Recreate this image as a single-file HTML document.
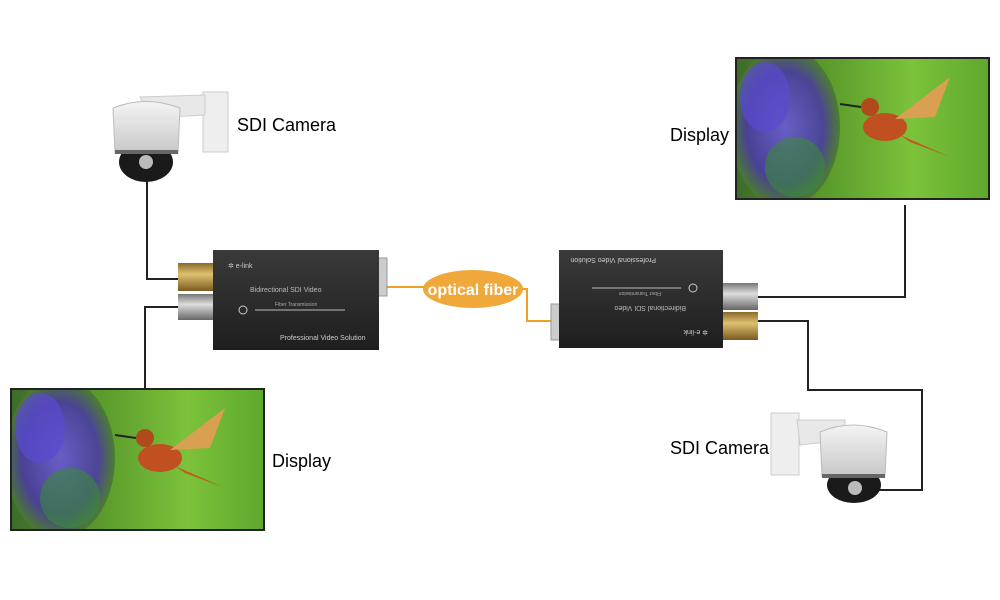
<!DOCTYPE html>
<html><head><meta charset="utf-8"><style>
body{margin:0;background:#fff;}
svg{display:block}
text{font-family:"Liberation Sans",sans-serif}
</style></head><body>
<svg width="1000" height="600" viewBox="0 0 1000 600" xmlns="http://www.w3.org/2000/svg">
<defs>
<clipPath id="dc"><rect x="2" y="2" width="251" height="139"/></clipPath>
<linearGradient id="bg" x1="0" y1="0" x2="1" y2="0">
<stop offset="0" stop-color="#3f6b2a"/><stop offset="0.35" stop-color="#5a9a2c"/><stop offset="0.7" stop-color="#7cc23a"/><stop offset="1" stop-color="#5ea82e"/></linearGradient>
<radialGradient id="fl" cx="0.5" cy="0.5" r="0.5"><stop offset="0" stop-color="#6a5ad8"/><stop offset="0.7" stop-color="#4a3ca0"/><stop offset="1" stop-color="#4a7a30"/></radialGradient>
<linearGradient id="box" x1="0" y1="0" x2="0" y2="1"><stop offset="0" stop-color="#3a3a3a"/><stop offset="1" stop-color="#1e1e1e"/></linearGradient>
<linearGradient id="gold" x1="0" y1="0" x2="0" y2="1"><stop offset="0" stop-color="#8a6a2a"/><stop offset="0.4" stop-color="#e0c070"/><stop offset="1" stop-color="#7a5a20"/></linearGradient>
<linearGradient id="silv" x1="0" y1="0" x2="0" y2="1"><stop offset="0" stop-color="#777"/><stop offset="0.4" stop-color="#ddd"/><stop offset="1" stop-color="#666"/></linearGradient>
<linearGradient id="dome" x1="0" y1="0" x2="0" y2="1"><stop offset="0" stop-color="#f4f4f4"/><stop offset="1" stop-color="#c8c8c8"/></linearGradient>
<g id="disp">
<rect x="0" y="0" width="255" height="143" fill="#222"/>
<g clip-path="url(#dc)">
<rect x="2" y="2" width="251" height="139" fill="url(#bg)"/>
<ellipse cx="50" cy="70" rx="55" ry="80" fill="url(#fl)" opacity="0.9"/>
<ellipse cx="30" cy="40" rx="25" ry="35" fill="#5a4ad0" opacity="0.7"/>
<ellipse cx="60" cy="110" rx="30" ry="30" fill="#3a8a3a" opacity="0.6"/>
<ellipse cx="150" cy="70" rx="22" ry="14" fill="#c05020"/>
<circle cx="135" cy="50" r="9" fill="#b04a1a"/>
<line x1="126" y1="50" x2="105" y2="47" stroke="#222" stroke-width="2"/>
<path d="M160 62 L215 20 L200 60 Z" fill="#d8a050"/>
<path d="M165 78 L215 100 L175 85 Z" fill="#c05a20"/>
</g>
</g>
</defs>

<g fill="none" stroke="#222" stroke-width="2">
<polyline points="147,180 147,279 180,279"/>
<polyline points="145,388 145,307 180,307"/>
<polyline points="905,205 905,297 758,297"/>
<polyline points="758,321 808,321 808,390 922,390 922,490 878,490"/>
</g>
<g fill="none" stroke="#f0a020" stroke-width="2">
<polyline points="385,287 430,287"/>
<polyline points="520,289 527,289 527,321 555,321"/>
</g>
<ellipse cx="473" cy="289" rx="50" ry="19" fill="#f0a83a"/>
<text x="473" y="295" text-anchor="middle" font-size="16" font-weight="bold" fill="#fff">optical fiber</text>

<rect x="203" y="92" width="25" height="60" fill="#eee" stroke="#ccc"/>
<path d="M140 97 L205 95 L205 115 L150 118 Z" fill="#e8e8e8" stroke="#ccc"/>
<ellipse cx="146" cy="162" rx="27" ry="20" fill="#1a1a1a"/>
<circle cx="146" cy="162" r="7" fill="#bbb"/>
<path d="M113 108 Q146 95 180 108 L178 153 L115 153 Z" fill="url(#dome)" stroke="#bbb"/>
<rect x="115" y="150" width="63" height="4" fill="#666"/>
<text x="237" y="131" font-size="18" fill="#000">SDI Camera</text>

<rect x="771" y="413" width="28" height="62" fill="#eee" stroke="#ccc"/>
<path d="M797 420 L845 420 L845 440 L800 445 Z" fill="#e8e8e8" stroke="#ccc"/>
<ellipse cx="854" cy="485" rx="27" ry="18" fill="#1a1a1a"/>
<circle cx="855" cy="488" r="7" fill="#bbb"/>
<path d="M820 432 Q853 418 887 432 L885 476 L822 476 Z" fill="url(#dome)" stroke="#bbb"/>
<rect x="822" y="474" width="63" height="4" fill="#666"/>
<text x="670" y="454" font-size="18" fill="#000">SDI Camera</text>

<rect x="178" y="263" width="37" height="28" fill="url(#gold)"/>
<rect x="178" y="294" width="37" height="26" fill="url(#silv)"/>
<rect x="377" y="258" width="10" height="38" fill="#ccc" stroke="#999"/>
<rect x="213" y="250" width="166" height="100" fill="url(#box)"/>
<text x="228" y="268" font-size="7" fill="#ccc">✲ e-link</text>
<text x="250" y="292" font-size="7" fill="#bbb">Bidirectional SDI Video</text>
<text x="275" y="306" font-size="5" fill="#aaa">Fiber Transmission</text>
<line x1="255" y1="310" x2="345" y2="310" stroke="#bbb" stroke-width="1"/>
<circle cx="243" cy="310" r="4" fill="none" stroke="#ccc"/>
<text x="280" y="340" font-size="7" fill="#ccc">Professional Video Solution</text>

<rect x="721" y="283" width="37" height="27" fill="url(#silv)"/>
<rect x="721" y="312" width="37" height="28" fill="url(#gold)"/>
<rect x="551" y="304" width="10" height="36" fill="#ccc" stroke="#999"/>
<rect x="559" y="250" width="164" height="98" fill="url(#box)"/>
<g transform="rotate(180 641 299)">
<text x="574" y="268" font-size="7" fill="#ccc">✲ e-link</text>
<text x="596" y="292" font-size="7" fill="#bbb">Bidirectional SDI Video</text>
<text x="621" y="306" font-size="5" fill="#aaa">Fiber Transmission</text>
<line x1="601" y1="310" x2="690" y2="310" stroke="#bbb"/>
<circle cx="589" cy="310" r="4" fill="none" stroke="#ccc"/>
<text x="626" y="340" font-size="7" fill="#ccc">Professional Video Solution</text>
</g>

<use href="#disp" x="10" y="388"/>
<use href="#disp" x="735" y="57"/>
<text x="272" y="467" font-size="18" fill="#000">Display</text>
<text x="670" y="141" font-size="18" fill="#000">Display</text>
</svg>
</body></html>
